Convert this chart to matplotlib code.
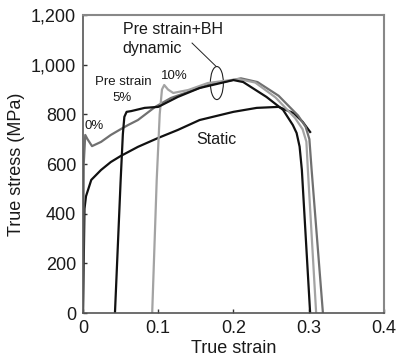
import numpy as np
import matplotlib
matplotlib.use("Agg")
from matplotlib import pyplot as plt
from matplotlib.patches import Ellipse
from matplotlib.ticker import FuncFormatter

plt.rcParams['font.family'] = ['Liberation Sans', 'DejaVu Sans']

# static test
static_x = [0, 0.002, 0.004, 0.011, 0.024, 0.037, 0.05, 0.073, 0.1, 0.126, 0.155,
            0.2, 0.231, 0.26, 0.28, 0.292, 0.302]
static_y = [0, 420, 470, 536, 576, 608, 632, 669, 705, 737, 777,
            810, 826, 830, 805, 770, 729]

# pre strain 0% + BH, dynamic
pre0_x = [0, 0.001, 0.003, 0.006, 0.012, 0.024, 0.037, 0.05, 0.06, 0.073, 0.096,
          0.117, 0.166, 0.21, 0.232, 0.26, 0.286, 0.296, 0.301, 0.304, 0.319]
pre0_y = [0, 600, 717, 700, 672, 689, 717, 740, 757, 777, 830,
          866, 918, 945, 930, 875, 795, 750, 700, 576, 0]

# pre strain 5% + BH, dynamic
pre5_x = [0.0425, 0.05, 0.053, 0.055, 0.058, 0.064, 0.082, 0.1, 0.126, 0.155, 0.2, 0.213,
          0.244, 0.266, 0.279, 0.284, 0.288, 0.291, 0.302]
pre5_y = [0, 530, 720, 790, 810, 813, 826, 830, 870, 906, 938, 930,
          870, 818, 757, 725, 670, 576, 0]

# pre strain 10% + BH, dynamic
pre10_x = [0.092, 0.098, 0.102, 0.105, 0.108, 0.113, 0.12, 0.14, 0.166, 0.207, 0.229,
           0.256, 0.282, 0.292, 0.297, 0.299, 0.31]
pre10_y = [0, 535, 800, 900, 918, 900, 886, 898, 926, 942, 928,
           868, 785, 740, 690, 576, 0]

fig = plt.figure(figsize=(3.99, 3.63), dpi=100)
ax = fig.add_axes([0.208, 0.1377, 0.754, 0.821])

ax.plot(static_x, static_y, color='#111111', lw=1.6)
ax.plot(pre0_x, pre0_y, color='#707070', lw=1.6)
ax.plot(pre10_x, pre10_y, color='#a3a3a3', lw=1.6)
ax.plot(pre5_x, pre5_y, color='#111111', lw=1.6)

ax.set_xlim(0, 0.4)
ax.set_ylim(0, 1200)
ax.set_xticks([0, 0.1, 0.2, 0.3, 0.4])
ax.set_xticklabels(['0', '0.1', '0.2', '0.3', '0.4'])
ax.set_yticks([0, 200, 400, 600, 800, 1000, 1200])
ax.yaxis.set_major_formatter(FuncFormatter(lambda v, p: '{:,.0f}'.format(v)))
ax.tick_params(direction='in', length=3, width=1, labelsize=13, pad=5,
               colors='#333333', labelcolor='#1a1a1a')

for s in ['top', 'right']:
    ax.spines[s].set_color('#888888')
    ax.spines[s].set_linewidth(1.5)
for s in ['bottom', 'left']:
    ax.spines[s].set_color('#555555')
    ax.spines[s].set_linewidth(1.2)

ax.set_xlabel('True strain', fontsize=13, color='#1a1a1a', labelpad=2)
ax.set_ylabel('True stress (MPa)', fontsize=13, color='#1a1a1a', labelpad=4)

# annotations
ax.text(0.0145, 755, '0%', fontsize=9.5, ha='center', va='center', color='#1a1a1a')
ax.text(0.054, 930, 'Pre strain', fontsize=9.5, ha='center', va='center', color='#1a1a1a')
ax.text(0.052, 865, '5%', fontsize=9.5, ha='center', va='center', color='#1a1a1a')
ax.text(0.121, 955, '10%', fontsize=9.5, ha='center', va='center', color='#1a1a1a')
ax.text(0.178, 697, 'Static', fontsize=11.5, ha='center', va='center', color='#1a1a1a')
ax.text(0.053, 1143, 'Pre strain+BH', fontsize=11.5, ha='left', va='center', color='#1a1a1a')
ax.text(0.053, 1067, 'dynamic', fontsize=11.5, ha='left', va='center', color='#1a1a1a')

ax.add_patch(Ellipse((0.178, 926), 0.0173, 133, fill=False, ec='#222222', lw=0.8))
ax.plot([0.145, 0.177], [1087, 993], color='#222222', lw=0.7)

fig.savefig('out.png', dpi=100)
